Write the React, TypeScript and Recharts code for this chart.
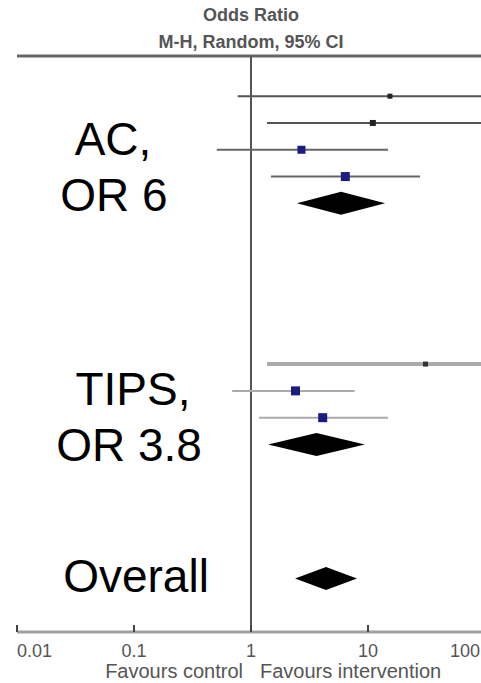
import React from 'react';
import { ScatterChart, Scatter, XAxis, YAxis, ReferenceLine, ReferenceArea } from 'recharts';

// individual studies (row = vertical slot, top to bottom)
const studyRows = [1, 2, 3, 4, 11, 12, 13];
const studyOR = [15.4, 11, 2.7, 6.4, 31, 2.4, 4.1];
const studyLow = [0.77, 1.37, 0.51, 1.48, 1.37, 0.69, 1.17];
const studyHigh = [100, 100, 14.8, 27.8, 100, 7.7, 14.8];

// pooled estimates (diamonds): AC, TIPS, overall
const pooledRows = [5, 14, 19];
const pooledLow = [2.47, 1.4, 2.38];
const pooledHigh = [14, 9.4, 8.05];

const groupLabels = [['AC,', 'OR 6'], ['TIPS,', 'OR 3.8'], ['Overall']];

const xTicks = [0.01, 0.1, 1, 10, 100];
const tickLabels = ['0.01', '0.1', '1', '10', '100'];

// look of each study row
const markerStyle = [
  { size: 5, fill: '#222' },
  { size: 6, fill: '#222' },
  { size: 8, fill: '#1c1c80' },
  { size: 9, fill: '#1c1c80' },
  { size: 5, fill: '#333' },
  { size: 9, fill: '#1c1c80' },
  { size: 9, fill: '#1c1c80' },
];
const lineStyle = [
  { stroke: '#555', width: 2 },
  { stroke: '#555', width: 2 },
  { stroke: '#666', width: 2 },
  { stroke: '#666', width: 2 },
  { stroke: '#aaa', width: 4 },
  { stroke: '#aaa', width: 2 },
  { stroke: '#aaa', width: 2 },
];

const points = studyRows.map((r, i) => ({ x: studyOR[i], y: r, i }));

const font = '"Liberation Sans", Arial, sans-serif';

const Square = (props: any) => {
  const { cx, cy, payload } = props;
  const s = markerStyle[payload.i].size;
  return <rect x={cx - s / 2} y={cy - s / 2} width={s} height={s} fill={markerStyle[payload.i].fill} />;
};

const Diamond = (props: any) => {
  const { x, y, width, height } = props;
  const mx = x + width / 2;
  const my = y + height / 2;
  return (
    <polygon
      points={`${x},${my} ${mx},${y} ${x + width},${my} ${mx},${y + height}`}
      fill="#000"
    />
  );
};

const Tick = (props: any) => {
  const { x, y, index } = props;
  const last = index === xTicks.length - 1;
  const anchor = index === 0 ? 'start' : last ? 'end' : 'middle';
  // keep the last label inside the visible page
  const tx = last ? Math.min(x, 480) : x;
  return (
    <g>
      <line x1={x} x2={x} y1={y} y2={y - 7} stroke="#444" strokeWidth={2} />
      <text x={tx} y={y + 25} textAnchor={anchor} fontSize={18} fill="#555" fontFamily={font}>
        {tickLabels[index]}
      </text>
    </g>
  );
};

const NullLineLabels = (props: any) => {
  const { x, y, height } = props.viewBox;
  return (
    <g fontFamily={font} fill="#555">
      <text x={x} y={y - 35} textAnchor="middle" fontSize={18} fontWeight="bold">
        Odds Ratio
      </text>
      <text x={x} y={y - 8} textAnchor="middle" fontSize={18} fontWeight="bold">
        M-H, Random, 95% CI
      </text>
      <text x={x - 8} y={y + height + 46} textAnchor="end" fontSize={20}>
        Favours control
      </text>
      <text x={x + 9} y={y + height + 46} textAnchor="start" fontSize={20}>
        Favours intervention
      </text>
    </g>
  );
};

export default function App() {
  return (
    <div style={{ position: 'absolute', left: 0, top: 0, width: 481, height: 683, overflow: 'hidden', background: '#fff' }}>
      <ScatterChart width={500} height={683} margin={{ top: 56, right: 15, left: 17, bottom: 0 }}>
        <XAxis
          dataKey="x"
          type="number"
          scale="log"
          domain={[0.01, 100]}
          ticks={xTicks}
          interval={0}
          allowDataOverflow
          height={51}
          tickSize={0}
          tickMargin={0}
          tickLine={false}
          axisLine={false}
          tick={<Tick />}
        />
        <YAxis dataKey="y" type="number" domain={[-0.5, 21]} reversed hide allowDataOverflow />
        <ReferenceLine y={-0.5} stroke="#666" strokeWidth={3} ifOverflow="visible" />
        <ReferenceLine y={21} stroke="#a0a0a0" strokeWidth={3} ifOverflow="visible" />
        <ReferenceLine
          x={1}
          stroke="#555"
          strokeWidth={2}
          ifOverflow="visible"
          label={(p: any) => <NullLineLabels viewBox={p.viewBox} />}
        />
        {studyRows.map((r, i) => (
          <ReferenceLine
            key={`ci-${i}`}
            segment={[{ x: studyLow[i], y: r }, { x: studyHigh[i], y: r }]}
            stroke={lineStyle[i].stroke}
            strokeWidth={lineStyle[i].width}
            ifOverflow="visible"
          />
        ))}
        {pooledRows.map((r, i) => (
          <ReferenceArea
            key={`pool-${i}`}
            x1={pooledLow[i]}
            x2={pooledHigh[i]}
            y1={r - 0.43}
            y2={r + 0.43}
            ifOverflow="visible"
            shape={(p: any) => <Diamond {...p} />}
          />
        ))}
        <Scatter data={points} shape={<Square />} isAnimationActive={false} />
      </ScatterChart>
      <svg width={481} height={683} style={{ position: 'absolute', left: 0, top: 0, pointerEvents: 'none' }}>
        <g fontFamily={font} fontSize={46} fill="#000" textAnchor="middle">
          <text x={113} y={155}>{groupLabels[0][0]}</text>
          <text x={114} y={211}>{groupLabels[0][1]}</text>
          <text x={133} y={405}>{groupLabels[1][0]}</text>
          <text x={129} y={461}>{groupLabels[1][1]}</text>
          <text x={136} y={592}>{groupLabels[2][0]}</text>
        </g>
      </svg>
    </div>
  );
}
